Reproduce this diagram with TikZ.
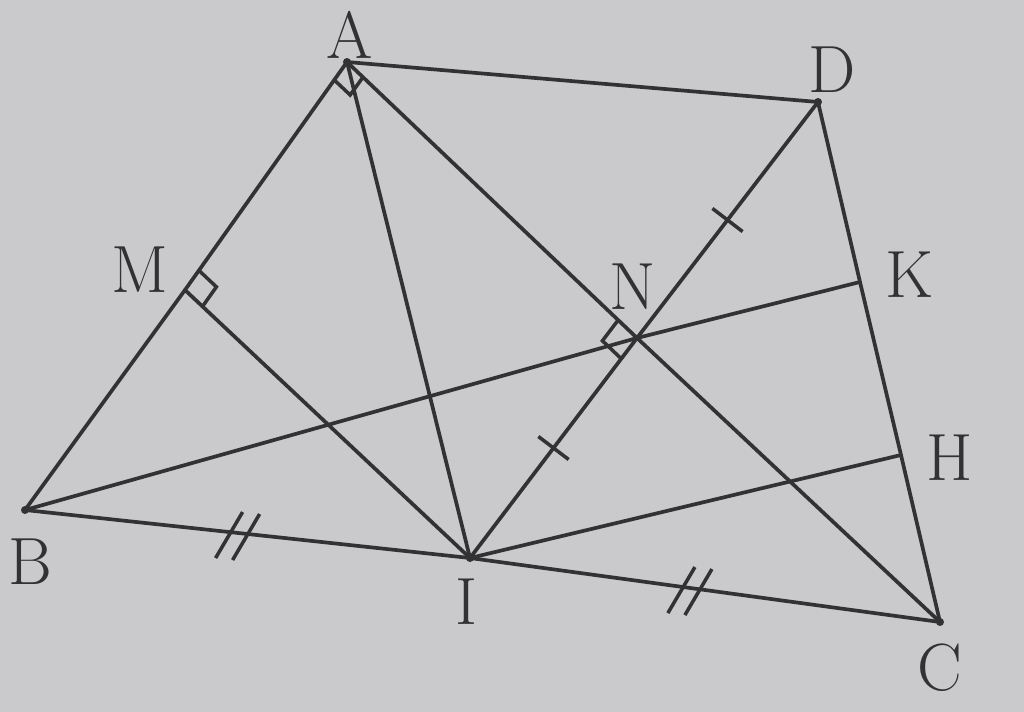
\documentclass[tikz,border=0pt]{standalone}
\usetikzlibrary{calc}
\definecolor{paper}{RGB}{202,202,204}
\definecolor{ink}{RGB}{50,50,53}
\begin{document}
\begin{tikzpicture}[x=0.01cm,y=-0.01cm,
  seg/.style={draw=ink,line width=1.05pt,line cap=round,line join=round},
  sign/.style={draw=ink,line width=1pt},
  lbl/.style={text=ink,font=\fontsize{19}{21}\selectfont,inner sep=0pt},
  dotf/.style={fill=ink}]
\fill[paper] (0,0) rectangle (1024,712);
\useasboundingbox (0,0) rectangle (1024,712);
% points
\coordinate (A) at (347,62);
\coordinate (D) at (818,102);
\coordinate (B) at (25,510);
\coordinate (C) at (940,622);
\coordinate (I) at (470,558);
\coordinate (M) at (185,290);
\coordinate (N) at (637,338);
\coordinate (K) at (860,282);
\coordinate (H) at (901,455);
% sides
\draw[seg] (A) -- (D) -- (K) -- (H) -- (C) -- (I) -- (B) -- (M) -- (A);
% inner lines
\draw[seg] (A) -- (I);
\draw[seg] (A) -- (N) -- (C);
\draw[seg] (D) -- (N) -- (I);
\draw[seg] (B) -- (N) -- (K);
\draw[seg] (M) -- (I);
\draw[seg] (I) -- (H);
% right angle at A
\coordinate (a1) at ($(A)!0.22cm!(B)$);
\coordinate (a2) at ($(A)!0.22cm!(C)$);
\draw[sign] (a1) -- ($(a1)+(a2)-(A)$) -- (a2);
% right angle at M
\coordinate (m1) at ($(M)!0.24cm!(A)$);
\coordinate (m2) at ($(M)!0.24cm!(I)$);
\draw[sign] (m1) -- ($(m1)+(m2)-(M)$) -- (m2);
% right angle at N
\coordinate (n1) at ($(N)!0.26cm!(A)$);
\coordinate (n2) at ($(N)!0.26cm!(I)$);
\draw[sign] (n1) -- ($(n1)+(n2)-(N)$) -- (n2);
% single ticks
\coordinate (t1) at ($(D)!0.5!(N)$);
\coordinate (t2) at ($(N)!0.5!(I)$);
\draw[sign] ($(t1)!0.19cm!90:(D)$) -- ($(t1)!0.19cm!-90:(D)$);
\draw[sign] ($(t2)!0.19cm!90:(N)$) -- ($(t2)!0.19cm!-90:(N)$);
% double ticks
\coordinate (q1) at ($(B)!0.48!(I)$);
\coordinate (q2) at ($(I)!0.47!(C)$);
\foreach \q in {q1,q2}{
  \draw[sign] ($(\q)+(-23,25)$) -- ($(\q)+(4,-21)$);
  \draw[sign] ($(\q)+(-6,27)$) -- ($(\q)+(21,-19)$);
}
% dots
\foreach \p in {A,B,C,D,I}{\fill[dotf] (\p) circle (4);}
% labels
\node[lbl] (lA) at (350,35) {A};
\node[lbl] (lD) at (832,70) {D};
\node[lbl] (lM) at (140,270) {M};
\node[lbl] (lN) at (633,287) {N};
\node[lbl] (lK) at (910,275) {K};
\node[lbl] (lH) at (950,458) {H};
\node[lbl] (lB) at (30,562) {B};
\node[lbl] (lI) at (466,602) {I};
\node[lbl] (lC) at (940,668) {C};
\end{tikzpicture}
\end{document}
